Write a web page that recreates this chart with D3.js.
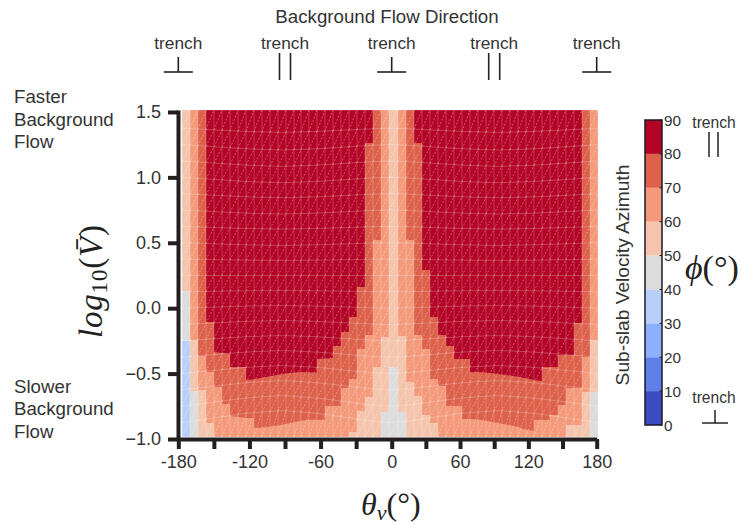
<!DOCTYPE html>
<html>
<head>
<meta charset="utf-8">
<script src="https://d3js.org/d3.v7.min.js"></script>
<style>
	html, body { margin: 0; background: #fff; }
	svg { display: block; }
	text { font-family: "Liberation Sans", Arial, sans-serif; fill: #333; }
	.math { font-family: "Liberation Serif", "DejaVu Serif", serif; fill: #222; }
</style>
</head>
<body>
<svg id="chart" width="741" height="524"></svg>
<script>
// column edges of the model grid, degrees
const thetaEdges = [
	-176.9, -170.1, -163.4, -156.6, -149.9, -143.1, -136.4, -129.6, -122.9, -116.1, -109.4, -102.6, -95.9, -89.2,
	-82.4, -76.5, -69.8, -63.0, -56.3, -49.5, -42.8, -36.0, -29.3, -22.5, -15.8, -9.0, -2.3,
	5.5, 12.6, 19.6, 26.6, 33.6, 40.6, 47.7, 54.7, 61.7, 68.7, 75.8, 82.8, 89.8, 96.8, 103.9, 110.9, 117.9, 124.9,
	132.0, 139.0, 146.0, 153.0, 160.1, 167.1, 174.1, 181.1
];
const topLogV = 1.515;
const bottomLogV = -0.985;

// for each column, log10(V) down to which phi stays at or above the level (null = never)
const depth30 = [
	-0.985, -0.985, -0.985, -0.985, -0.985, -0.985, -0.985, -0.985, -0.985, -0.985, -0.985, -0.985, -0.985,
	-0.985, -0.985, -0.985, -0.985, -0.985, -0.985, -0.985, -0.985, -0.985, -0.985, -0.985, -0.985, -0.985,
	-0.985, -0.985, -0.985, -0.985, -0.985, -0.985, -0.985, -0.985, -0.985, -0.985, -0.985, -0.985, -0.985,
	-0.985, -0.985, -0.985, -0.985, -0.985, -0.985, -0.985, -0.985, -0.985, -0.985, -0.985, -0.985, -0.985
];
const depth40 = [
	-0.251, -0.985, -0.985, -0.985, -0.985, -0.985, -0.985, -0.985, -0.985, -0.985, -0.985, -0.985, -0.985,
	-0.985, -0.985, -0.985, -0.985, -0.985, -0.985, -0.985, -0.985, -0.985, -0.985, -0.985, -0.985, -0.985,
	-0.985, -0.985, -0.985, -0.985, -0.985, -0.985, -0.985, -0.985, -0.985, -0.985, -0.985, -0.985, -0.985,
	-0.985, -0.985, -0.985, -0.985, -0.985, -0.985, -0.985, -0.985, -0.985, -0.985, -0.985, -0.985, -0.985
];
const depth50 = [
	0.132, -0.633, -0.985, -0.985, -0.985, -0.985, -0.985, -0.985, -0.985, -0.985, -0.985, -0.985, -0.985,
	-0.985, -0.985, -0.985, -0.985, -0.985, -0.985, -0.985, -0.985, -0.985, -0.985, -0.985, -0.985, -0.794,
	-0.449, -0.794, -0.985, -0.985, -0.985, -0.985, -0.985, -0.985, -0.985, -0.985, -0.985, -0.985, -0.985,
	-0.985, -0.985, -0.985, -0.985, -0.985, -0.985, -0.985, -0.985, -0.985, -0.985, -0.985, -0.985, -0.641
];
const depth60 = [
	null, -0.243, -0.625, -0.877, -0.985, -0.985, -0.985, -0.985, -0.985, -0.985, -0.985, -0.985, -0.985,
	-0.985, -0.985, -0.985, -0.985, -0.985, -0.985, -0.985, -0.985, -0.946, -0.784, -0.679, -0.449, -0.220,
	null, -0.213, -0.564, -0.671, -0.817, -0.877, -0.985, -0.985, -0.985, -0.985, -0.985, -0.985, -0.985,
	-0.985, -0.985, -0.985, -0.985, -0.985, -0.985, -0.985, -0.985, -0.985, -0.893, -0.893, -0.641, -0.243
];
const depth70 = [
	null, null, -0.365, -0.488, -0.602, -0.732, -0.824, -0.840, -0.840, -0.916, -0.908, -0.900, -0.893,
	-0.877, -0.866, -0.855, -0.851, -0.855, -0.748, -0.748, -0.610, -0.541, -0.312, -0.205, 0.521, null,
	null, null, 0.521, -0.205, -0.312, -0.541, -0.595, -0.748, -0.748, -0.847, -0.847, -0.855, -0.866,
	-0.877, -0.889, -0.900, -0.916, -0.939, -0.855, -0.855, -0.817, -0.740, -0.610, -0.610, -0.373, null
];
const depth80 = [
	null, null, null, -0.105, -0.335, -0.350, -0.449, -0.449, -0.549, -0.537, -0.526, -0.515, -0.503,
	-0.495, -0.488, -0.488, -0.492, -0.388, -0.381, -0.289, -0.182, -0.067, 0.162, 1.263, null, null,
	null, null, null, 1.263, 0.292, -0.067, -0.205, -0.289, -0.388, -0.388, -0.488, -0.488, -0.495,
	-0.503, -0.511, -0.518, -0.530, -0.541, -0.557, -0.449, -0.449, -0.358, -0.358, -0.113, null, null
];

// how far the mesh rows bow over each column edge, and how much per row
const meshBend = [
	0, 0.1, 0.2, 0.3, 0.4, 0.5, 0.6, 0.7, 0.78, 0.85, 0.9, 0.95, 1, 1, 0.95, 0.9, 0.85, 0.78, 0.7, 0.6, 0.5, 0.4, 0.3, 0.2, 0.1, 0.05, 0,
	0.05, 0.1, 0.2, 0.3, 0.4, 0.5, 0.6, 0.7, 0.78, 0.85, 0.9, 0.95, 1, 1, 0.95, 0.9, 0.85, 0.78, 0.7, 0.6, 0.5, 0.4, 0.3, 0.2, 0.1, 0
];
const meshRows = [
	-0.985, -0.875, -0.75, -0.625, -0.5, -0.375, -0.25, -0.125, 0, 0.125, 0.25, 0.375, 0.5, 0.625, 0.75, 0.875, 1, 1.125, 1.25, 1.375, 1.515
];
const meshRowBend = [
	0, 0.09, 0.08, 0.07, 0.06, 0.05, 0.04, 0.03, 0.02, 0.01, 0, -0.01, -0.02, -0.02, -0.03, -0.03, -0.04, -0.04, -0.04, -0.03, 0
];

const levelColors = ['#b8d0f9', '#dddcdc', '#f5c4ac', '#f49a7b', '#dd604a', '#b40426'];
const colorbarColors = ['#3b4cc0', '#5f7fe8', '#8db0fe', '#b8d0f9', '#dddcdc', '#f5c4ac', '#f49a7b', '#dd604a', '#b40426'];
const colorbarTicks = [0, 10, 20, 30, 40, 50, 60, 70, 80, 90];
const xTicks = [-180, -150, -120, -90, -60, -30, 0, 30, 60, 90, 120, 150, 180];
const xLabelled = [-180, -120, -60, 0, 60, 120, 180];
const yTicks = [-1, -0.5, 0, 0.5, 1, 1.5];
const trenchMarks = [
	{ theta: -180, type: 'perp' },
	{ theta: -90, type: 'par' },
	{ theta: 0, type: 'perp' },
	{ theta: 90, type: 'par' },
	{ theta: 180, type: 'perp' }
];
const fasterLabel = ['Faster', 'Background', 'Flow'];
const slowerLabel = ['Slower', 'Background', 'Flow'];

const ChartPane = {
	svg: d3.select('#chart'),
	xScale: d3.scaleLinear().domain([ -180, 0, 180 ]).range([ 178.3, 391.7, 596.7 ]),
	yScale: d3.scaleLinear().domain([ -1, topLogV ]).range([ 439, 110 ]),
	barScale: d3.scaleLinear().domain([ 0, 90 ]).range([ 425, 120 ]),

	draw: function() {
		const self = this;

		self.drawField();
		self.drawMesh();
		self.drawAxes();
		self.drawTrenchHeader();
		self.drawSideLabels();
		self.drawColorbar();
	},
	drawField: function() {
		const self = this;
		let levels = [ depth30, depth40, depth50, depth60, depth70, depth80 ];
		let area = d3.area()
			.defined(d => d.depth !== null)
			.x(d => self.xScale(d.theta))
			.y0(self.yScale(topLogV))
			.y1(d => self.yScale(d.depth));

		self.svg.append('g')
			.selectAll('path')
			.data(levels)
			.join('path')
			.attr('fill', (d, i) => levelColors[i])
			.attr('d', d => area(self.columnPoints(d)));
	},
	columnPoints: function(depths) {
		let points = [];

		for (let i = 0; i < depths.length; i++) {
			let depth = depths[i];
			let left = depth, right = depth;

			// neighbours this close belong to the same bent mesh row
			if (depth !== null && depths[i - 1] != null && Math.abs(depths[i - 1] - depth) < 0.03)
				left = (depths[i - 1] + depth) / 2;
			if (depth !== null && depths[i + 1] != null && Math.abs(depths[i + 1] - depth) < 0.03)
				right = (depths[i + 1] + depth) / 2;

			points.push({ theta: thetaEdges[i], depth: left });
			points.push({ theta: thetaEdges[i + 1], depth: right });
		}

		return points;
	},
	drawMesh: function() {
		const self = this;
		let mesh = self.svg.append('g').attr('fill', 'none').attr('stroke', '#fff');
		let rowY = (r, i) => self.yScale(meshRows[r] + meshRowBend[r] * meshBend[i]);
		let verticals = '', rows = '', diagonals = '';

		for (let i = 0; i < thetaEdges.length; i++) {
			let x = self.xScale(thetaEdges[i]);
			verticals += 'M' + x + ',' + rowY(0, i) + 'V' + rowY(meshRows.length - 1, i);
		}

		for (let r = 0; r < meshRows.length; r++)
			for (let i = 0; i < thetaEdges.length - 1; i++) {
				let x0 = self.xScale(thetaEdges[i]);
				let x1 = self.xScale(thetaEdges[i + 1]);

				rows += 'M' + x0 + ',' + rowY(r, i) + 'L' + x1 + ',' + rowY(r, i + 1);
				if (r < meshRows.length - 1)
					diagonals += 'M' + x0 + ',' + rowY(r, i) + 'L' + x1 + ',' + rowY(r + 1, i + 1);
			}

		mesh.append('path').attr('d', verticals).attr('stroke-opacity', 0.24).attr('stroke-width', 0.9);
		mesh.append('path').attr('d', rows).attr('stroke-opacity', 0.26).attr('stroke-width', 0.9);
		mesh.append('path').attr('d', diagonals).attr('stroke-opacity', 0.42).attr('stroke-width', 0.75).attr('stroke-dasharray', '2,1.5');
	},
	drawAxes: function() {
		const self = this;
		let xAxis = d3.axisBottom(self.xScale)
			.tickValues(xTicks)
			.tickSize(10)
			.tickSizeOuter(0)
			.tickPadding(6)
			.tickFormat(d => xLabelled.includes(d) ? d : '');
		let yAxis = d3.axisLeft(self.yScale)
			.tickValues(yTicks)
			.tickSize(10)
			.tickSizeOuter(0)
			.tickPadding(7)
			.tickFormat(d3.format('.1f'));

		let xGroup = self.svg.append('g').attr('transform', 'translate(0,439)').call(xAxis);
		let yGroup = self.svg.append('g').attr('transform', 'translate(178,0)').call(yAxis);

		self.svg.selectAll('.domain, .tick line')
			.attr('stroke', '#231f20')
			.attr('stroke-width', 4);
		xGroup.selectAll('text').attr('font-size', 18).attr('font-family', null);
		yGroup.selectAll('text').attr('font-size', 18).attr('font-family', null);

		self.svg.append('text')
			.attr('class', 'math')
			.attr('x', 361)
			.attr('y', 515)
			.attr('font-size', 32)
			.html('<tspan font-style="italic">θ</tspan><tspan font-style="italic" font-size="22" dy="5">v</tspan><tspan dy="-5">(°)</tspan>');

		self.svg.append('text')
			.attr('class', 'math')
			.attr('transform', 'translate(102,338) rotate(-90)')
			.attr('font-size', 33)
			.attr('letter-spacing', 0.8)
			.html('<tspan font-style="italic">log</tspan><tspan font-size="23" dy="5">10</tspan><tspan dy="-5">(</tspan><tspan font-style="italic">V̄</tspan>)');
	},
	drawTrenchSymbol: function(group, type, cx, top, bottom, halfWidth) {
		if (type == 'perp') {
			group.append('line').attr('x1', cx - halfWidth).attr('x2', cx + halfWidth).attr('y1', bottom).attr('y2', bottom);
			group.append('line').attr('x1', cx).attr('x2', cx).attr('y1', top).attr('y2', bottom);
		}
		else {
			group.append('line').attr('x1', cx - halfWidth).attr('x2', cx - halfWidth).attr('y1', top).attr('y2', bottom);
			group.append('line').attr('x1', cx + halfWidth).attr('x2', cx + halfWidth).attr('y1', top).attr('y2', bottom);
		}
	},
	drawTrenchHeader: function() {
		const self = this;
		let header = self.svg.append('g').attr('stroke', '#222').attr('stroke-width', 1.6);

		self.svg.append('text')
			.attr('x', 387)
			.attr('y', 23)
			.attr('text-anchor', 'middle')
			.attr('font-size', 18.7)
			.text('Background Flow Direction');

		self.svg.selectAll('.trench-label')
			.data(trenchMarks)
			.join('text')
			.attr('class', 'trench-label')
			.attr('x', d => self.xScale(d.theta))
			.attr('y', 49)
			.attr('text-anchor', 'middle')
			.attr('font-size', 17.3)
			.text('trench');

		for (let i = 0; i < trenchMarks.length; i++) {
			let mark = trenchMarks[i];
			let cx = self.xScale(mark.theta);

			if (mark.type == 'perp')
				self.drawTrenchSymbol(header, 'perp', cx, 57, 72, 14.5);
			else
				self.drawTrenchSymbol(header, 'par', cx, 53, 80, 5.5);
		}
	},
	drawSideLabels: function() {
		const self = this;
		let addLines = function(lines, firstBaseline) {
			self.svg.append('g')
				.selectAll('text')
				.data(lines)
				.join('text')
				.attr('x', 14)
				.attr('y', (d, i) => firstBaseline + i * 22.7)
				.attr('font-size', 18.7)
				.text(d => d);
		};

		addLines(fasterLabel, 103);
		addLines(slowerLabel, 392.6);
	},
	drawColorbar: function() {
		const self = this;
		let bar = self.svg.append('g');
		let symbols = self.svg.append('g').attr('stroke', '#222').attr('stroke-width', 1.5);

		bar.selectAll('rect')
			.data(colorbarColors)
			.join('rect')
			.attr('x', 645)
			.attr('width', 17)
			.attr('y', (d, i) => self.barScale(colorbarTicks[i + 1]))
			.attr('height', (d, i) => self.barScale(colorbarTicks[i]) - self.barScale(colorbarTicks[i + 1]))
			.attr('fill', d => d);

		bar.append('rect')
			.attr('x', 645)
			.attr('y', self.barScale(90))
			.attr('width', 17)
			.attr('height', self.barScale(0) - self.barScale(90))
			.attr('fill', 'none')
			.attr('stroke', '#1a1a2a')
			.attr('stroke-width', 1.5);

		bar.selectAll('line')
			.data(colorbarTicks)
			.join('line')
			.attr('x1', 659.5)
			.attr('x2', 662)
			.attr('y1', d => self.barScale(d))
			.attr('y2', d => self.barScale(d))
			.attr('stroke', '#1a1a2a');

		bar.selectAll('text')
			.data(colorbarTicks)
			.join('text')
			.attr('x', 664)
			.attr('y', d => self.barScale(d) + 5.5)
			.attr('font-size', 15.3)
			.text(d => d);

		self.svg.append('text')
			.attr('transform', 'translate(629,275) rotate(-90)')
			.attr('text-anchor', 'middle')
			.attr('font-size', 19.2)
			.text('Sub-slab Velocity Azimuth');

		self.svg.append('text').attr('x', 714).attr('y', 128).attr('text-anchor', 'middle').attr('font-size', 15.6).text('trench');
		self.svg.append('text').attr('x', 714).attr('y', 403).attr('text-anchor', 'middle').attr('font-size', 15.6).text('trench');
		self.drawTrenchSymbol(symbols, 'par', 713.5, 132, 157, 4.5);
		self.drawTrenchSymbol(symbols, 'perp', 715, 410, 423, 13);

		self.svg.append('text')
			.attr('class', 'math')
			.attr('x', 685)
			.attr('y', 279)
			.attr('font-size', 34)
			.html('<tspan font-style="italic">ϕ</tspan>(°)');
	}
}

ChartPane.draw();
</script>
</body>
</html>
